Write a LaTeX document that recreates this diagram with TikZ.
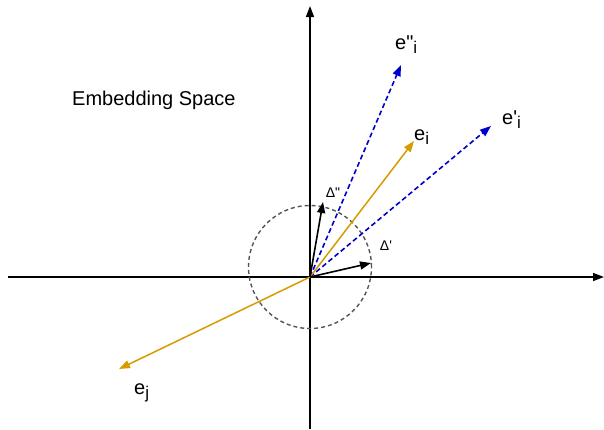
\documentclass[tikz,border=0pt]{standalone}
\usepackage{fontspec}
\setmainfont{Liberation Sans}[Ligatures=TeXOff]
\usetikzlibrary{arrows.meta}
\definecolor{orng}{HTML}{D79B00}
\definecolor{blu}{HTML}{0000CC}
\definecolor{gry}{HTML}{555555}
\newcommand{\sbs}[1]{\raisebox{-4pt}{\fontsize{17}{17}\selectfont #1}}
\begin{document}
\begin{tikzpicture}[x=1pt,y=-1pt,
  tip/.style={-{Triangle[length=11pt,width=8pt]}},
  axis/.style={tip,line width=1.5pt,black},
  orv/.style={tip,line width=1.5pt,orng},
  blv/.style={tip,line width=1.6pt,blu,dash pattern=on 5pt off 3pt},
  dv/.style={tip,line width=1.6pt,black},
  lbl/.style={font=\fontsize{20}{22}\selectfont,inner sep=0pt},
  dl/.style={font=\fontsize{14}{15}\selectfont,inner sep=0pt}]
\useasboundingbox (0,0) rectangle (604,429);
\coordinate (O) at (310,277);
\coordinate (xl) at (8,277);
\coordinate (xr) at (604,277);
\coordinate (yb) at (310,429);
\coordinate (yt) at (310,6);
\draw[axis] (xl) -- (xr);
\draw[axis] (yb) -- (yt);
\node[draw=gry,line width=1.4pt,dash pattern=on 4pt off 3pt,circle,minimum size=123pt,inner sep=0pt] (c) at (310,267) {};
\coordinate (ei) at (414,141);
\coordinate (ej) at (119,369);
\coordinate (eii) at (401,65);
\coordinate (epi) at (491,126);
\coordinate (d2) at (323,202);
\coordinate (d1) at (371,263);
\draw[blv] (O) -- (eii);
\draw[blv] (O) -- (epi);
\draw[orv] (O) -- (ei);
\draw[orv] (O) -- (ej);
\draw[dv] (O) -- (d2);
\draw[dv] (O) -- (d1);
\node[lbl,anchor=base west] (tE) at (72,105) {Embedding Space};
\node[lbl,anchor=base west] (l1) at (395,49) {e"\sbs{i}};
\node[lbl,anchor=base west] (l2) at (502,124) {e'\sbs{i}};
\node[lbl,anchor=base west] (l3) at (414,140) {e\sbs{i}};
\node[lbl,anchor=base west] (l4) at (134,394) {e\sbs{j}};
\node[dl] (t2) at (333,193) {Δ"};
\node[dl] (t1) at (386,246) {Δ'};
\end{tikzpicture}
\end{document}
